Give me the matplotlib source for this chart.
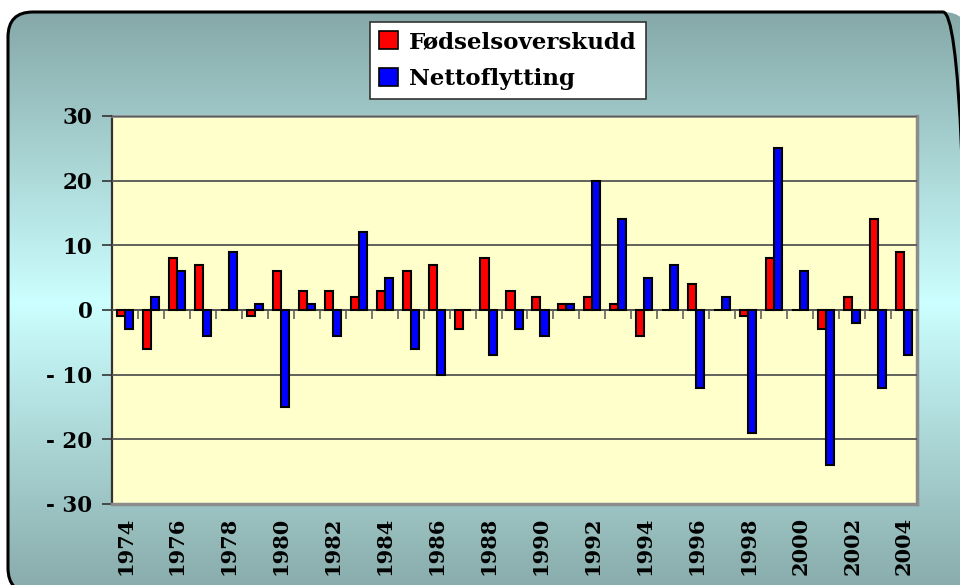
import numpy as np
import matplotlib
matplotlib.use("Agg")
import matplotlib.pyplot as plt
from matplotlib.patches import FancyBboxPatch, Patch
import matplotlib.colors as mcolors

years = list(range(1974, 2005))
fodselsoverskudd = [-1, -6, 8, 7, 0, -1, 6, 3, 3, 2, 3, 6, 7, -3, 8, 3, 2, 1, 2, 1,
                    -4, 0, 4, 0, -1, 8, 0, -3, 2, 14, 9]
nettoflytting = [-3, 2, 6, -4, 9, 1, -15, 1, -4, 12, 5, -6, -10, 0, -7, -3, -4, 1, 20, 14,
                 5, 7, -12, 2, -19, 25, 6, -24, -2, -12, -7]
series_names = ["Fødselsoverskudd", "Nettoflytting"]
yticks = [30, 20, 10, 0, -10, -20, -30]
ytick_labels = ["30", "20", "10", "0", "- 10", "- 20", "- 30"]

FONT = "DejaVu Serif"

fig = plt.figure(figsize=(9.6, 5.85), dpi=100)
fig.patch.set_facecolor("white")

# background frame with vertical gradient (pixel-like coordinates, y up)
bg = fig.add_axes([0, 0, 1, 1])
bg.set_xlim(0, 960)
bg.set_ylim(0, 585)
bg.axis("off")
cmap = mcolors.LinearSegmentedColormap.from_list(
    "frame", [(0.0, "#88aaaa"), (0.5, "#ccffff"), (1.0, "#86a8a8")])
grad = np.linspace(0, 1, 256).reshape(-1, 1)
box = FancyBboxPatch((8, -8), 960, 581, boxstyle="round,pad=0,rounding_size=25",
                     facecolor="none", edgecolor="black", linewidth=2.2, zorder=3)
bg.add_patch(box)
im = bg.imshow(grad, cmap=cmap, aspect="auto", extent=[8, 968, -8, 573],
               origin="lower", interpolation="bilinear", zorder=1)
im.set_clip_path(box)

# main plot
ax = fig.add_axes([112 / 960, (585 - 504) / 585, 805 / 960, 388 / 585])
ax.set_facecolor("#ffffcc")
x = np.arange(len(years))
w = 0.31
ax.bar(x - w / 2, fodselsoverskudd, width=w, color="#ff0000", edgecolor="black",
       linewidth=1.5, zorder=3)
ax.bar(x + w / 2, nettoflytting, width=w, color="#0000ff", edgecolor="black",
       linewidth=1.5, zorder=3)
ax.set_xlim(-0.5, len(years) - 0.5)
ax.set_ylim(-30, 30)
ax.set_yticks(yticks)
ax.set_yticklabels(ytick_labels, fontfamily=FONT, fontweight="bold", fontsize=15.5)
ax.yaxis.grid(True, color="#555555", linewidth=1.3, zorder=1)
ax.tick_params(axis="y", direction="out", length=7, width=1.2, color="#333333", pad=7)

# x axis at zero with category boundary ticks
ax.spines["bottom"].set_position(("data", 0))
ax.spines["bottom"].set_color("#222222")
ax.spines["bottom"].set_linewidth(1.2)
ax.set_xticks(x[:-1] + 0.5)
ax.set_xticklabels([])
ax.tick_params(axis="x", direction="out", length=6.5, width=1.1, color="#555555")
ax.spines["left"].set_color("#333333")
ax.spines["left"].set_linewidth(1.6)
ax.spines["top"].set_color("#8c8c8c")
ax.spines["top"].set_linewidth(2)
ax.spines["right"].set_color("#8c8c8c")
ax.spines["right"].set_linewidth(2.5)
ax.set_axisbelow(False)
# bottom border of plot area
ax.axhline(-30, color="#8c8c8c", linewidth=2.5, zorder=5, clip_on=False)

# year labels at bottom
sec = ax.secondary_xaxis("bottom")
sec.spines["bottom"].set_visible(False)
sec.set_xticks(x[::2])
sec.set_xticklabels([str(y) for y in years[::2]], rotation=90, fontfamily=FONT,
                    fontweight="bold", fontsize=15)
sec.tick_params(axis="x", length=0, pad=9)

# legend
handles = [Patch(facecolor="#ff0000", edgecolor="black", linewidth=1.2),
           Patch(facecolor="#0000ff", edgecolor="black", linewidth=1.2)]
leg = fig.legend(handles, series_names, loc="upper left",
                 bbox_to_anchor=(370 / 960, 1 - 22 / 585),
                 prop={"family": FONT, "weight": "bold", "size": 16.5},
                 frameon=True, fancybox=False, edgecolor="#333333", facecolor="white",
                 framealpha=1, handlelength=0.8, handleheight=0.8, handletextpad=0.5,
                 labelspacing=0.65, borderpad=0.4, borderaxespad=0)
leg.get_frame().set_linewidth(1.2)

fig.savefig("out.png", dpi=100)
